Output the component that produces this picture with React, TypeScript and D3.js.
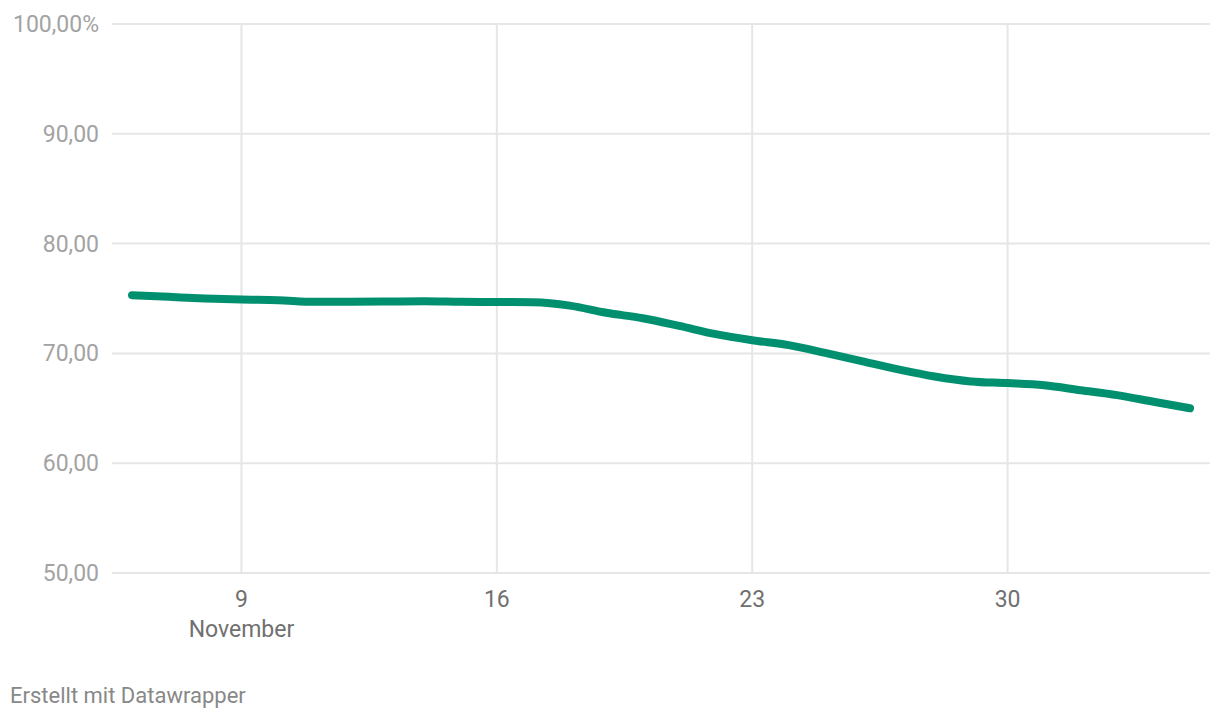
import React from "react";
import * as d3 from "d3";

const startDate = new Date(2020, 10, 6);
const values: number[] = [
  75.3, 75.15, 75.0, 74.9, 74.85, 74.7, 74.7, 74.72, 74.75, 74.7, 74.68, 74.65,
  74.35, 73.7, 73.2, 72.5, 71.75, 71.2, 70.75, 70.05, 69.3, 68.55, 67.9, 67.45,
  67.3, 67.1, 66.65, 66.2, 65.6, 65.0,
];
const dates: Date[] = values.map((_, i) => d3.timeDay.offset(startDate, i));
const yTicks: number[] = [50, 60, 70, 80, 90, 100];
const xTickDates: Date[] = [9, 16, 23, 30].map((d) => new Date(2020, 10, d));

export default function App() {
  const W = 1220, H = 720;
  const x = d3.scaleTime().domain([dates[0], dates[dates.length - 1]]).range([132, 1190]);
  const y = d3.scaleLinear().domain([50, 100]).range([573, 24]);
  const line = d3
    .line<number>()
    .x((_, i) => x(dates[i]))
    .y((d) => y(d))
    .curve(d3.curveMonotoneX);
  const fmt = (v: number) => v.toFixed(2).replace(".", ",") + (v === 100 ? "%" : "");
  return (
    <svg
      width={W}
      height={H}
      style={{ position: "absolute", left: 0, top: 0, fontFamily: "Roboto, sans-serif" }}
    >
      <rect width={W} height={H} fill="#fff" />
      {xTickDates.map((d, i) => (
        <line key={"vx" + i} x1={x(d)} x2={x(d)} y1={24} y2={573} stroke="#e6e6e6" strokeWidth={2} />
      ))}
      {yTicks.map((t) => (
        <g key={"y" + t}>
          <line x1={112} x2={1210} y1={y(t)} y2={y(t)} stroke="#e6e6e6" strokeWidth={2} />
          <text x={99} y={y(t) + 8} textAnchor="end" fontSize={23} fill="#a3a3a3">
            {fmt(t)}
          </text>
        </g>
      ))}
      {xTickDates.map((d, i) => (
        <text key={"xt" + i} x={x(d)} y={607} textAnchor="middle" fontSize={23} fill="#707070">
          {d3.timeFormat("%-d")(d)}
        </text>
      ))}
      <text x={x(xTickDates[0])} y={637} textAnchor="middle" fontSize={23} fill="#707070">
        November
      </text>
      <path
        d={line(values) || ""}
        fill="none"
        stroke="#00906f"
        strokeWidth={8}
        strokeLinecap="round"
        strokeLinejoin="round"
      />
      <text x={10} y={703} fontSize={22} fill="#888888">
        Erstellt mit Datawrapper
      </text>
    </svg>
  );
}
